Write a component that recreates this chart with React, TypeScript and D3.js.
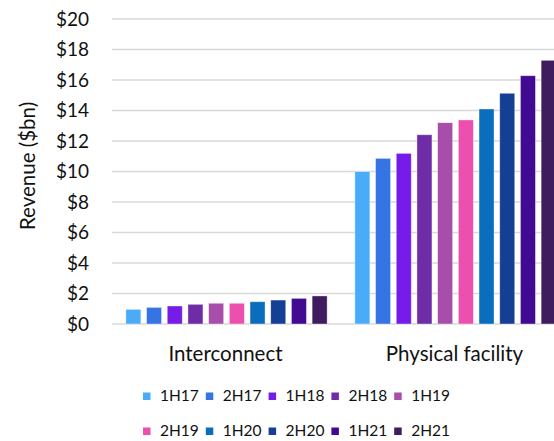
import React, { useEffect, useRef } from 'react'
import * as d3 from 'd3'

const categories = ['Interconnect', 'Physical facility']
const periods = ['1H17', '2H17', '1H18', '2H18', '1H19', '2H19', '1H20', '2H20', '1H21', '2H21']
const interconnect = [0.96, 1.09, 1.18, 1.29, 1.36, 1.36, 1.46, 1.57, 1.68, 1.84]
const physical = [9.99, 10.86, 11.19, 12.41, 13.2, 13.38, 14.1, 15.13, 16.28, 17.29]
const colors = ['#4aabf8', '#3574e2', '#761ce8', '#6e2ca6', '#a64ea9', '#ec4fae', '#0a6ebd', '#153f94', '#420a92', '#3f1c5e']
const yTicks = [0, 2, 4, 6, 8, 10, 12, 14, 16, 18, 20]

const font = 'Lato, "Open Sans", sans-serif'

export default function App() {
  const ref = useRef<SVGSVGElement>(null)

  useEffect(() => {
    const svg = d3.select(ref.current)
    svg.selectAll('*').remove()

    const w = 554
    const left = 112
    const right = 570
    const top = 19
    const bottom = 324

    const x0 = d3.scaleBand().domain(categories).range([left, right])
    const x1 = d3.scaleBand().domain(periods).range([0, x0.bandwidth()]).paddingOuter(0.67).paddingInner(0.275)
    const y = d3.scaleLinear().domain([0, 20]).range([bottom, top])

    const data = [interconnect, physical]

    // gridlines
    svg.append('g').selectAll('line').data(yTicks).join('line')
      .attr('x1', left).attr('x2', w)
      .attr('y1', d => y(d)).attr('y2', d => y(d))
      .attr('stroke', '#d9d9d9').attr('stroke-width', 1.5)

    // tick labels
    svg.append('g').selectAll('text').data(yTicks).join('text')
      .attr('x', 89).attr('y', d => y(d)).attr('dy', '0.35em')
      .attr('text-anchor', 'end')
      .attr('font-family', font).attr('font-size', 19).attr('fill', '#111')
      .text(d => `$${d}`)

    // bars
    const groups = svg.append('g').selectAll('g').data(categories).join('g')
      .attr('transform', d => `translate(${x0(d)},0)`)
    groups.selectAll('rect').data((d, i) => data[i].map((v, j) => ({ p: periods[j], v, c: colors[j] }))).join('rect')
      .attr('x', d => x1(d.p)!).attr('width', x1.bandwidth())
      .attr('y', d => y(d.v)).attr('height', d => bottom - y(d.v))
      .attr('fill', d => d.c)
      .attr('stroke', 'rgba(255,255,255,0.5)').attr('stroke-width', 0.75)

    // category labels
    svg.append('g').selectAll('text').data(categories).join('text')
      .attr('x', d => x0(d)! + x0.bandwidth() / 2 - 1).attr('y', 354).attr('dy', '0.35em')
      .attr('text-anchor', 'middle')
      .attr('font-family', font).attr('font-size', 20.5).attr('fill', '#111')
      .text(d => d)

    // y title
    svg.append('text')
      .attr('transform', `translate(28, 166) rotate(-90)`)
      .attr('text-anchor', 'middle').attr('dy', '0.35em')
      .attr('font-family', font).attr('font-size', 20.5).attr('fill', '#111')
      .text('Revenue ($bn)')

    // legend
    const legend = svg.append('g').selectAll('g').data(periods).join('g')
      .attr('transform', (d, i) => `translate(${143 + (i % 5) * 62.8}, ${i < 5 ? 396 : 431})`)
    legend.append('rect').attr('x', 0).attr('y', -3.5).attr('width', 7.5).attr('height', 7.5)
      .attr('fill', (d, i) => colors[i])
    legend.append('text').attr('x', 17).attr('y', 0).attr('dy', '0.35em')
      .attr('font-family', font).attr('font-size', 15.5).attr('fill', '#111')
      .text(d => d)
  }, [])

  return (
    <svg ref={ref} width={554} height={441} style={{ position: 'absolute', left: 0, top: 0, background: '#fff' }} />
  )
}
